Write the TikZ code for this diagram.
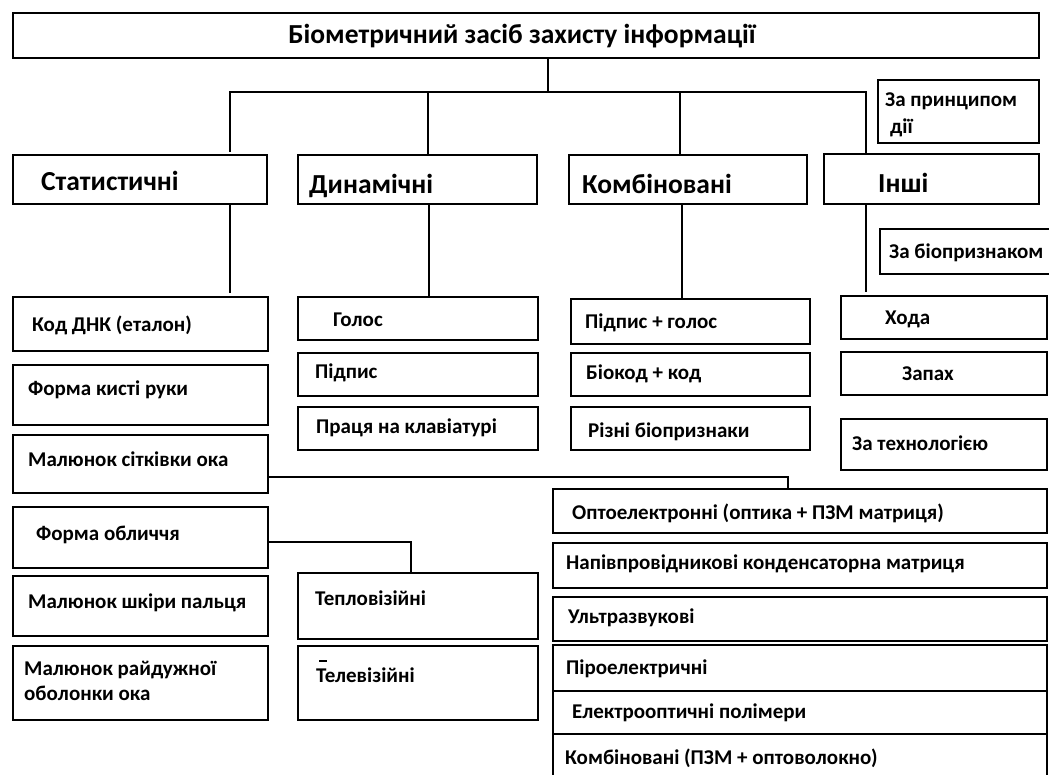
\documentclass[tikz,border=0pt]{standalone}
\usepackage{fontspec}
\setmainfont{Carlito}
\tikzset{
  box/.style={draw, line width=2.5pt, rectangle, inner sep=0pt, outer sep=0pt, anchor=north west},
  conn/.style={line width=2pt, line cap=rect},
  lbl/.style={anchor=west, inner sep=0pt, font=\bfseries\fontsize{21}{24}\selectfont},
  cat/.style={anchor=west, inner sep=0pt, font=\bfseries\fontsize{27.5}{30}\selectfont},
  ttl/.style={inner sep=0pt, font=\bfseries\fontsize{27.5}{30}\selectfont},
}
% \panel{name}{x1}{y1}{x2}{y2}: framed rectangle from top-left to bottom-right
\newcommand\panel[5]{\node[box, minimum width={(#4-#2)*1pt}, minimum height={(#5-#3)*1pt}] (#1) at (#2,#3) {};}
\begin{document}
\begin{tikzpicture}[x=1pt,y=-1pt]
\clip (0,0) rectangle (1049,774);
\fill[white] (0,0) rectangle (1049,774);

% title and principle of operation
\panel{top}{13}{13}{1039}{58}
\node[ttl] (toptext) at (522,36) {Біометричний засіб захисту інформації};
\panel{princ}{878}{80}{1039}{143}
\node[lbl] (princa) at (885,101) {За принципом};
\node[lbl] (princb) at (890,128) {дії};

% categories
\panel{stat}{13}{155}{267}{204}
\panel{dyn}{298}{155}{537}{204}
\panel{komb}{569}{155}{807}{204}
\panel{insh}{824}{154}{1039}{204}
\node[cat] (stattext) at (41,181) {Статистичні};
\node[cat] (dyntext) at (309,186) {Динамічні};
\node[cat] (kombtext) at (582,184) {Комбіновані};
\node[cat] (inshtext) at (878,183) {Інші};

% static features
\panel{dnk}{13}{297}{268}{351}
\panel{kyst}{13}{365}{268}{425}
\panel{sitk}{13}{435}{268}{493}
\panel{oblych}{13}{507}{268}{568}
\panel{shkira}{13}{576}{268}{636}
\panel{raid}{13}{646}{268}{720}
\node[lbl] (dnktext) at (32,325) {Код ДНК (еталон)};
\node[lbl] (kysttext) at (28,390) {Форма кисті руки};
\node[lbl] (sitktext) at (28,459) {Малюнок сітківки ока};
\node[lbl] (oblychtext) at (36,535) {Форма обличчя};
\node[lbl] (shkiratext) at (28,603) {Малюнок шкіри пальця};
\node[lbl, align=left] (raidtext) at (24,681) {Малюнок райдужної\\[1pt]оболонки ока};

% dynamic features
\panel{holos}{298}{297}{538}{340}
\panel{pidpys}{298}{353}{538}{396}
\panel{pratsia}{298}{407}{538}{450}
\node[lbl] (holostext) at (333,320) {Голос};
\node[lbl] (pidpystext) at (315,373) {Підпис};
\node[lbl] (pratsiatext) at (316,428) {Праця на клавіатурі};

% face imaging
\panel{teplo}{298}{573}{538}{639}
\panel{tele}{298}{646}{538}{720}
\node[lbl] (teplotext) at (315,598) {Тепловізійні};
\node[lbl] (teletext) at (316,675) {Телевізійні};
\draw[line width=1.5pt] (teletext.west) ++(3,-14) -- ++(8,0);

% combined features
\panel{pg}{571}{299}{810}{344}
\panel{biokod}{571}{353}{810}{396}
\panel{rizni}{571}{407}{810}{450}
\node[lbl] (pgtext) at (585,323) {Підпис + голос};
\node[lbl] (biokodtext) at (586,374) {Біокод + код};
\node[lbl] (riznitext) at (588,432) {Різні біопризнаки};

% other features
\panel{bioozn}{880}{229}{1080}{274}
\panel{khoda}{841}{296}{1047}{339}
\panel{zapakh}{841}{352}{1047}{395}
\panel{tekhn}{841}{419}{1047}{470}
\node[lbl] (biooznText) at (889,253) {За біопризнаком};
\node[lbl] (khodatext) at (885,319) {Хода};
\node[lbl] (zapakhtext) at (902,374) {Запах};
\node[lbl] (tekhntext) at (852,443) {За технологією};

% sensor technologies
\panel{opto}{553}{489}{1047}{533}
\panel{napiv}{553}{543}{1047}{588}
\panel{ultra}{553}{597}{1047}{641}
\panel{piro}{553}{645}{1047}{691}
\panel{elopt}{553}{691}{1047}{734}
\panel{kpzm}{553}{734}{1047}{790}
\node[lbl] (optotext) at (572,513) {Оптоелектронні (оптика + ПЗМ матриця)};
\node[lbl] (napivtext) at (566,564) {Напівпровідникові конденсаторна матриця};
\node[lbl] (ultratext) at (568,618) {Ультразвукові};
\node[lbl] (pirotext) at (566,669) {Піроелектричні};
\node[lbl] (elopttext) at (572,713) {Електрооптичні полімери};
\node[lbl] (kpzmtext) at (565,758) {Комбіновані (ПЗМ + оптоволокно)};

% connectors
\coordinate (hub) at (548,92);
\coordinate (barL) at (230,92);
\coordinate (barR) at (866,92);
\coordinate (statIn) at (230,151);
\coordinate (statOut) at (230,292);
\coordinate (inshOut) at (866,291);
\coordinate (sitkBend) at (788,477);
\coordinate (oblychBend) at (411,542);

\draw[conn] (top.south -| hub) -- (hub);
\draw[conn] (barL) -- (barR);
\draw[conn] (barL) -- (statIn);
\draw[conn] (dyn.north -| 428,0) -- (428,92);
\draw[conn] (komb.north -| 680,0) -- (680,92);
\draw[conn] (barR) -- (insh.north -| barR);

\draw[conn] (stat.south -| statOut) -- (statOut);
\draw[conn] (dyn.south -| 429,0) -- (holos.north -| 429,0);
\draw[conn] (komb.south -| 682,0) -- (pg.north -| 682,0);
\draw[conn] (insh.south -| inshOut) -- (inshOut);

\draw[conn] (sitk.east |- sitkBend) -- (sitkBend) -- (opto.north -| sitkBend);
\draw[conn] (oblych.east |- oblychBend) -- (oblychBend) -- (teplo.north -| oblychBend);
\end{tikzpicture}
\end{document}
